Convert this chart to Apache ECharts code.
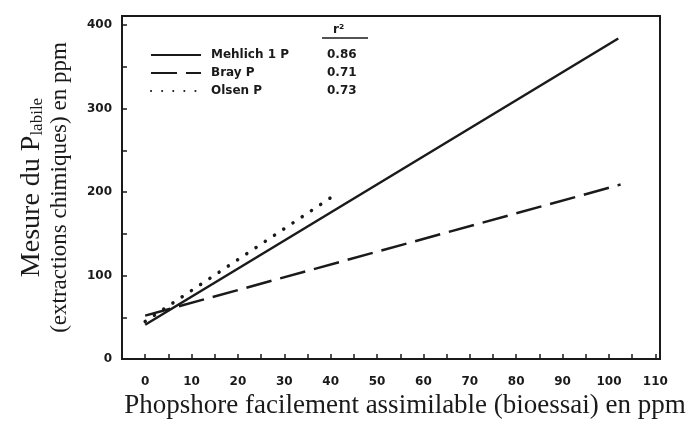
<!DOCTYPE html>
<html>
<head>
<meta charset="utf-8">
<script src="https://cdn.jsdelivr.net/npm/echarts@6/dist/echarts.min.js"></script>
<style>html,body{margin:0;padding:0;background:#fff;}#c{width:689px;height:425px;}</style>
</head>
<body>
<div id="c"></div>
<script>
const seriesNames = ['Mehlich 1 P', 'Bray P', 'Olsen P'];
const r2Values = ['0.86', '0.71', '0.73'];
const mehlichX = [0, 102];
const mehlichY = [41, 384];
const brayX = [0, 102.5];
const brayY = [52, 209];
const olsenX = [0, 40.2];
const olsenY = [45, 194];
const xTickLabels = [0, 10, 20, 30, 40, 50, 60, 70, 80, 90, 100, 110];
const xTickMarks = [0, 5, 10, 15, 20, 25, 30, 35, 40, 45, 50, 55, 60, 65, 70, 75, 80, 85, 90, 95, 100, 105, 110];
const yTickLabels = [0, 100, 200, 300, 400];
const yTickMarks = [0, 50, 100, 150, 200, 250, 300, 350, 400];

const pairs = (xs, ys) => xs.map((x, i) => [x, ys[i]]);
const ink = '#1a1a1a';
const tickFont = { fontFamily: 'DejaVu Sans', fontWeight: 'bold', fontSize: 12, color: ink };

const chart = echarts.init(document.getElementById('c'), null, { renderer: 'canvas' });
chart.setOption({
  backgroundColor: '#fff',
  animation: false,
  grid: { left: 122, right: 29, top: 16, bottom: 66, show: true, borderColor: ink, borderWidth: 2, backgroundColor: 'transparent' },
  xAxis: {
    type: 'value', min: -5, max: 111,
    splitLine: { show: false },
    axisLine: { onZero: false, lineStyle: { color: ink, width: 2 } },
    axisTick: { inside: true, length: 5, customValues: xTickMarks, lineStyle: { color: ink, width: 1.5 } },
    axisLabel: Object.assign({ customValues: xTickLabels, margin: 17 }, tickFont),
    name: 'Phopshore facilement assimilable (bioessai) en ppm',
    nameLocation: 'middle', nameGap: 31,
    nameTextStyle: { fontFamily: 'Liberation Serif', fontSize: 27, color: ink, padding: [0, 0, 0, 28] }
  },
  yAxis: {
    type: 'value', min: 0, max: 411,
    splitLine: { show: false },
    axisLine: { onZero: false, lineStyle: { color: ink, width: 2 } },
    axisTick: { inside: true, length: 5, customValues: yTickMarks, lineStyle: { color: ink, width: 1.5 } },
    axisLabel: Object.assign({ customValues: yTickLabels, margin: 10 }, tickFont),
    name: '{b|Mesure du P}{s|labile}\n{a|(extractions chimiques) en ppm}',
    nameLocation: 'middle', nameGap: 48, nameRotate: 90,
    nameTextStyle: {
      color: ink,
      rich: {
        b: { fontFamily: 'Liberation Serif', fontSize: 28, color: ink, lineHeight: 28 },
        a: { fontFamily: 'Liberation Serif', fontSize: 23, color: ink, lineHeight: 28 },
        s: { fontFamily: 'Liberation Serif', fontSize: 17, color: ink, verticalAlign: 'bottom', padding: [10, 0, 0, 0] }
      }
    }
  },
  legend: {
    orient: 'vertical', left: 145, top: 44,
    itemWidth: 50, itemHeight: 14, itemGap: 6,
    data: seriesNames,
    itemStyle: { opacity: 0 },
    formatter: function (name) {
      const i = seriesNames.indexOf(name);
      return '{n|' + name + '}{v|' + r2Values[i] + '}';
    },
    textStyle: {
      rich: {
        n: { fontFamily: 'DejaVu Sans', fontWeight: 'bold', fontSize: 12, color: ink, width: 116, padding: [0, 0, 0, 5] },
        v: { fontFamily: 'DejaVu Sans', fontWeight: 'bold', fontSize: 12, color: ink }
      }
    },
    selectedMode: false
  },
  graphic: [
    { type: 'text', left: 333, top: 24, style: { text: 'r²', font: 'bold 12px "DejaVu Sans"', fill: ink } },
    { type: 'line', shape: { x1: 322, y1: 38, x2: 368, y2: 38 }, style: { stroke: ink, lineWidth: 1.5 } }
  ],
  series: [
    { name: seriesNames[0], type: 'line', data: pairs(mehlichX, mehlichY), symbol: 'none', lineStyle: { color: ink, width: 2.5, type: 'solid' }, itemStyle: { color: ink } },
    { name: seriesNames[1], type: 'line', data: pairs(brayX, brayY), symbol: 'none', lineStyle: { color: ink, width: 2.5, type: [26, 9] }, itemStyle: { color: ink } },
    { name: seriesNames[2], type: 'line', data: pairs(olsenX, olsenY), symbol: 'none', lineStyle: { color: ink, width: 3.5, type: [0.1, 11], cap: 'round' }, itemStyle: { color: ink } }
  ]
});
</script>
</body>
</html>
